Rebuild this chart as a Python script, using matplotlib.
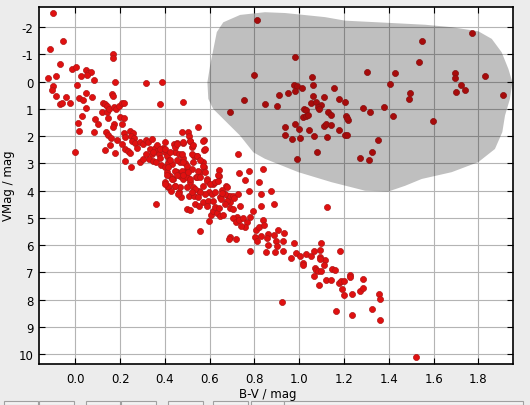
import matplotlib
matplotlib.use("Agg")
import matplotlib.pyplot as plt
from matplotlib.patches import Polygon, Rectangle
import numpy as np

plt.rcParams['font.family'] = ['DejaVu Sans']
plt.rcParams['axes.unicode_minus'] = False

# ---- data: stars (B-V colour index, absolute V magnitude) ----
# upper main sequence (hot stars)
bv_a = [-0.098, -0.054, -0.112, -0.067, -0.121, -0.085, -0.098, -0.105, -0.085, -0.067, -0.058, -0.040,
        -0.022, -0.013, 0.004, 0.009, 0.027, 0.049, 0.058, 0.071, 0.054, 0.085, 0.018, 0.036, 0.049, 0.076,
        0.049, 0.031, 0.013, 0.018, 0.0, 0.089, 0.103, 0.085, 0.170, 0.170, 0.179, 0.165, 0.170, 0.317,
        0.389, 0.380, 0.482]
vm_a = [-2.51, -1.49, -1.19, -0.64, -0.13, -0.20, 0.17, 0.30, 0.53, 0.83, 0.79, 0.57,
        0.79, -0.46, -0.53, 0.13, -0.20, -0.42, -0.31, -0.35, -0.24, -0.06, 0.61, 0.68, 0.42, 0.57,
        0.97, 1.27, 1.52, 1.82, 2.59, 1.38, 1.56, 1.85, -1.01, -0.86, 0.02, 0.46, 0.53, 0.06,
        0.02, 0.83, 0.75]

# dense main sequence (A-F-G stars)
bv_b = [0.126, 0.134, 0.143, 0.121, 0.143, 0.152, 0.147, 0.174, 0.183, 0.197, 0.210, 0.219, 0.201, 0.219,
        0.174, 0.170, 0.210, 0.138, 0.147, 0.161, 0.134, 0.156, 0.179, 0.188, 0.219, 0.223, 0.210, 0.246,
        0.259, 0.250, 0.263, 0.255, 0.268, 0.223, 0.237, 0.246, 0.277, 0.290, 0.304, 0.317, 0.326, 0.223,
        0.250, 0.290, 0.304, 0.317, 0.335, 0.344, 0.357, 0.366, 0.375, 0.330, 0.348, 0.362, 0.380, 0.393,
        0.402, 0.411, 0.420, 0.384, 0.402, 0.415, 0.433, 0.442, 0.456, 0.447, 0.478, 0.482, 0.505, 0.509,
        0.514, 0.523, 0.532, 0.545, 0.572, 0.576, 0.576, 0.549, 0.464, 0.482, 0.469, 0.491, 0.500, 0.411,
        0.424, 0.438, 0.456, 0.469, 0.482, 0.402, 0.415, 0.429, 0.447, 0.464, 0.473, 0.491, 0.500, 0.514,
        0.527, 0.540, 0.558, 0.576, 0.509, 0.532, 0.554, 0.572, 0.590, 0.598, 0.616, 0.643, 0.643, 0.674,
        0.683, 0.648, 0.732, 0.777, 0.759, 0.822, 0.777, 0.831, 0.840, 0.728]
vm_b = [0.79, 0.83, 0.90, 1.12, 1.12, 1.01, 1.34, 0.94, 1.01, 0.90, 0.79, 0.79, 1.30, 1.34,
        1.56, 1.67, 1.56, 1.85, 1.96, 2.07, 2.51, 2.33, 2.62, 2.15, 1.89, 2.04, 2.29, 1.82,
        1.89, 2.00, 2.07, 2.18, 2.26, 2.48, 2.55, 2.62, 2.44, 2.22, 2.29, 2.15, 2.22, 2.92,
        3.14, 2.95, 2.84, 2.66, 2.48, 2.66, 2.44, 2.55, 2.66, 2.84, 2.92, 2.95, 2.81, 2.44,
        2.59, 2.73, 2.88, 3.06, 3.14, 2.99, 3.03, 2.29, 2.26, 2.59, 1.85, 2.26, 1.85, 2.00,
        2.18, 2.40, 2.73, 2.73, 2.95, 2.15, 2.51, 1.67, 2.66, 2.81, 2.95, 2.99, 3.21, 3.32,
        3.47, 3.58, 3.32, 3.45, 3.58, 3.69, 3.87, 4.02, 3.83, 4.06, 4.24, 3.32, 3.50, 3.69,
        3.87, 3.50, 3.32, 3.14, 4.20, 4.20, 4.02, 3.81, 3.57, 4.06, 3.76, 3.25, 3.47, 3.83,
        4.20, 4.24, 3.36, 3.28, 3.61, 3.69, 4.02, 4.13, 3.21, 2.66]

bv_c = [0.341, 0.363, 0.348, 0.378, 0.401, 0.401, 0.423, 0.445, 0.453, 0.483, 0.512, 0.527, 0.572, 0.579,
        0.520, 0.542, 0.475, 0.423, 0.453, 0.483, 0.497, 0.527, 0.557, 0.572, 0.579, 0.550, 0.520, 0.475,
        0.445, 0.416, 0.408, 0.430, 0.453, 0.483, 0.505, 0.512, 0.542, 0.557, 0.587, 0.602, 0.624, 0.639,
        0.639, 0.676, 0.691, 0.706, 0.669, 0.654, 0.609, 0.579, 0.557, 0.535, 0.497, 0.468, 0.445, 0.416,
        0.401, 0.460, 0.520, 0.550, 0.572, 0.594, 0.617, 0.691, 0.728, 0.625, 0.657, 0.652, 0.679, 0.710,
        0.875]
vm_c = [2.10, 2.34, 2.59, 2.47, 2.22, 2.47, 2.59, 2.41, 2.28, 2.22, 2.16, 2.34, 2.16, 2.47,
        2.65, 2.71, 2.65, 2.89, 2.89, 2.96, 3.08, 2.96, 2.89, 3.08, 3.32, 3.26, 3.20, 3.26,
        3.26, 3.14, 3.44, 3.57, 3.44, 3.44, 3.32, 3.57, 3.51, 3.51, 3.63, 3.75, 3.69, 3.63,
        3.44, 3.87, 4.18, 4.18, 4.12, 3.99, 4.12, 4.12, 4.06, 3.93, 3.87, 3.87, 3.81, 3.81,
        3.75, 4.12, 4.06, 4.24, 4.42, 4.36, 4.36, 4.42, 4.12, 4.06, 4.09, 4.31, 4.39, 4.28,
        4.02]

# lower main sequence (G-K stars)
bv_d = [0.362, 0.500, 0.514, 0.536, 0.554, 0.558, 0.598, 0.607, 0.616, 0.634, 0.648, 0.661, 0.625, 0.643,
        0.590, 0.670, 0.692, 0.706, 0.737, 0.724, 0.706, 0.719, 0.732, 0.750, 0.768, 0.759, 0.741, 0.692,
        0.688, 0.719, 0.782, 0.808, 0.822, 0.804, 0.831, 0.813, 0.840, 0.844, 0.795, 0.782, 0.831, 0.862,
        0.855, 0.853]
vm_d = [4.49, 4.68, 4.72, 4.49, 4.57, 5.49, 5.12, 4.90, 4.75, 4.83, 4.94, 4.90, 4.61, 4.64,
        4.57, 4.50, 4.64, 4.68, 4.57, 4.97, 5.01, 5.16, 5.08, 5.01, 5.16, 5.34, 5.30, 5.71,
        5.78, 5.78, 6.22, 5.45, 5.34, 5.71, 5.67, 5.85, 5.08, 5.26, 4.75, 4.97, 4.57, 5.60,
        5.73, 6.26]

# K-M dwarfs
bv_e = [0.889, 1.125, 0.907, 0.889, 0.933, 0.895, 0.929, 0.862, 0.900, 0.893, 0.926, 0.978, 0.965, 0.986,
        1.005, 1.018, 1.018, 1.032, 1.051, 1.067, 1.092, 1.097, 1.094, 1.117, 1.111, 1.093, 1.071, 1.066,
        1.074, 1.083, 1.096, 1.090, 1.121, 1.143, 1.147, 1.161, 1.184, 1.178, 1.188, 1.199, 1.193, 1.202,
        1.226, 1.228, 1.237, 1.270, 1.285, 1.286, 1.327, 1.358, 1.362, 1.362, 1.237, 1.166, 0.925, 1.522]
vm_e = [4.49, 4.61, 5.45, 5.63, 5.56, 5.85, 5.85, 6.00, 6.04, 6.25, 6.22, 5.93, 6.48, 6.28,
        6.40, 6.64, 6.72, 6.32, 6.40, 6.22, 6.18, 5.93, 6.44, 6.55, 6.73, 6.49, 6.83, 7.12,
        6.92, 6.94, 6.94, 7.47, 7.28, 7.28, 6.88, 6.92, 6.22, 7.38, 7.31, 7.31, 7.62, 7.84,
        7.09, 7.15, 7.80, 7.68, 7.56, 7.25, 8.35, 7.80, 7.98, 8.75, 8.57, 8.42, 8.09, 10.11]

# giants
bv_g = [1.773, 1.550, 0.980, 1.537, 1.304, 1.429, 1.697, 1.697, 1.831, 1.058, 1.407, 1.724, 1.702, 1.742,
        1.912, 1.496, 1.492, 0.978, 0.992, 0.983, 1.014, 1.063, 1.157, 0.911, 0.951, 1.063, 1.112, 1.179,
        1.206, 1.054, 1.076, 1.099, 1.085, 1.090, 0.847, 0.902, 1.023, 1.032, 1.018, 1.032, 1.041, 1.130,
        1.143, 1.210, 1.219, 1.215, 1.286, 1.318, 1.380, 1.420, 1.599, 0.938, 0.983, 1.000, 1.045, 1.067,
        1.112, 1.121, 1.143, 1.125, 1.179, 1.206, 1.215, 0.938, 0.969, 1.005, 1.353, 1.081, 0.992, 1.273,
        1.313, 1.327, 0.692, 0.755, 0.800, 0.812]
vm_g = [-1.78, -1.49, -0.90, -0.72, -0.36, -0.31, -0.31, -0.13, -0.20, -0.17, 0.09, 0.13, 0.39, 0.31,
        0.50, 0.42, 0.64, 0.13, 0.17, 0.35, 0.24, 0.13, 0.24, 0.50, 0.42, 0.53, 0.57, 0.64,
        0.75, 0.79, 0.75, 0.86, 0.94, 1.02, 0.83, 0.90, 1.01, 1.05, 1.30, 1.27, 1.23, 1.12,
        1.23, 1.27, 1.41, 1.34, 0.97, 1.12, 0.94, 1.27, 1.45, 1.67, 1.56, 1.74, 1.78, 2.00,
        1.63, 1.56, 1.60, 2.04, 1.78, 1.96, 1.96, 1.96, 2.11, 2.07, 2.15, 2.59, 2.84, 2.81,
        2.88, 2.59, 1.12, 0.68, -0.24, -2.26]

# giant-branch region outline (B-V, VMag)
region_bv = [0.661, 0.736, 0.847, 0.937, 1.115, 1.205, 1.397, 1.562, 1.681, 1.800, 1.860, 1.904, 1.934,
             1.952, 1.941, 1.919, 1.907, 1.874, 1.800, 1.681, 1.547, 1.473, 1.398, 1.294, 1.145, 0.996,
             0.847, 0.795, 0.736, 0.676, 0.616, 0.594, 0.590, 0.602, 0.632]
region_vm = [-2.18, -2.45, -2.55, -2.52, -2.37, -2.24, -2.16, -2.09, -2.00, -1.85, -1.57, -1.08, -0.47,
             0.02, 0.63, 1.24, 1.85, 2.47, 2.95, 3.32, 3.57, 3.82, 4.03, 4.00, 3.69, 3.32,
             2.83, 2.59, 1.98, 1.49, 1.00, 0.63, 0.02, -0.59, -1.82]

x_ticks = [0.0, 0.2, 0.4, 0.6, 0.8, 1.0, 1.2, 1.4, 1.6, 1.8]
y_ticks = [-2, -1, 0, 1, 2, 3, 4, 5, 6, 7, 8, 9, 10]

bv = bv_a + bv_b + bv_c + bv_d + bv_e + bv_g
vm = vm_a + vm_b + vm_c + vm_d + vm_e + vm_g

# ---- figure ----
W, H = 530, 406
fig = plt.figure(figsize=(W / 100, H / 100), dpi=100, facecolor='#ececec')
ax = fig.add_axes([39 / W, 1 - 365 / H, (513.3 - 39) / W, (365 - 8.3) / H])
ax.set_facecolor('white')

ax.scatter(bv, vm, s=19, c='#e01010', edgecolors='#b01515', linewidths=0.5, zorder=2)

poly = Polygon(np.column_stack([region_bv, region_vm]), closed=True,
               facecolor='black', alpha=0.25, edgecolor='none', zorder=3)
ax.add_patch(poly)

ax.set_xlim(-0.162, 1.956)
ax.set_ylim(10.36, -2.73)
ax.set_xticks(x_ticks)
ax.set_xticklabels([f'{t:.1f}' for t in x_ticks])
ax.set_yticks(y_ticks)
ax.set_yticklabels([str(t) for t in y_ticks])

ax.grid(True, color='#b4b4b4', linewidth=0.8, zorder=1)
ax.set_axisbelow(True)
ax.tick_params(direction='in', length=4, width=0.8, top=True, right=True,
               labelsize=8.5, colors='black', pad=4)
ax.tick_params(axis='x', pad=6)
for sp in ax.spines.values():
    sp.set_linewidth(1.2)
    sp.set_color('black')

fig.text(268 / W, 1 - 395 / H, 'B-V / mag', ha='center', va='center', fontsize=8.5)
fig.text(9 / W, 1 - 186 / H, 'VMag / mag', ha='center', va='center', rotation=90, fontsize=8.5)

# partial toolbar buttons at the very bottom
for x0, x1 in [(4, 38), (39, 74), (86, 120), (121, 156), (168, 203), (213, 248), (251, 284), (284, 523)]:
    fig.patches.append(Rectangle((x0 / W, 0), (x1 - x0) / W, 4 / H, transform=fig.transFigure,
                                 facecolor='#f2f2f2', edgecolor='#a0a0a0', linewidth=0.8))

fig.savefig('out.png', dpi=100, facecolor=fig.get_facecolor())
